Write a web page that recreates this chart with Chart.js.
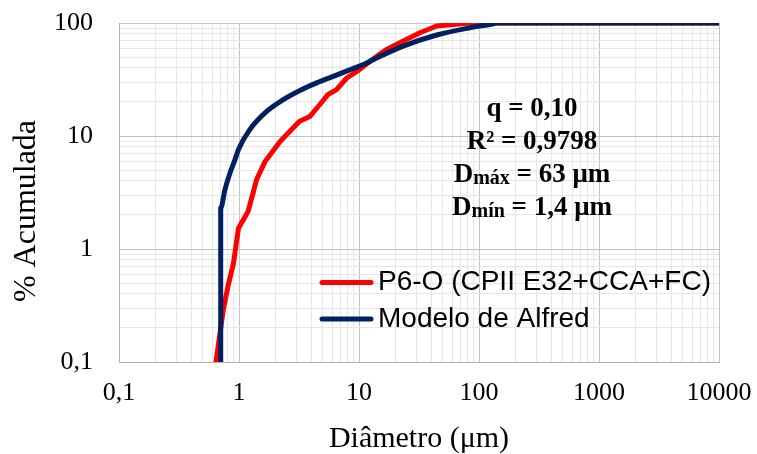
<!DOCTYPE html>
<html><head><meta charset="utf-8">
<script src="https://cdn.jsdelivr.net/npm/chart.js@4.4.1/dist/chart.umd.min.js"></script>
<style>html,body{margin:0;padding:0;background:#fff;}#wrap{width:757px;height:454px;position:relative;}</style>
</head><body><div id="wrap"><canvas id="c" width="757" height="454"></canvas></div>
<script>
// ---- data ----
const xMajorTicks = [0.1, 1, 10, 100, 1000, 10000];
const xTickLabels = ['0,1', '1', '10', '100', '1000', '10000'];
const yMajorTicks = [0.1, 1, 10, 100];
const yTickLabels = ['0,1', '1', '10', '100'];
const seriesNames = ['P6-O (CPII E32+CCA+FC)', 'Modelo de Alfred'];
const xTitle = 'Diâmetro (μm)';
const yTitle = '% Acumulada';

// experimental curve P6-O: diameter (μm) and cumulative %
const expDiam = [0.60, 0.74, 0.81, 0.90, 0.99, 1.19, 1.31, 1.40, 1.65, 1.87, 2.2, 2.5, 3.2, 3.9, 4.7, 5.5, 6.5, 7.9, 9.6, 10.9, 12.4, 17, 23.4, 32.2, 44.4, 61, 84, 10000];
const expCum  = [0.06, 0.29, 0.47, 0.75, 1.53, 2.15, 3.13, 4.1, 5.96, 7.1, 8.96, 10.3, 13.5, 14.9, 18.9, 23.2, 25.7, 32.6, 37.3, 41.3, 46, 58.4, 69.3, 82, 94, 97, 100, 100];

// Alfred model curve
const modelDiam = [0.704, 0.704, 0.764, 0.841, 0.926, 0.99, 1.23, 1.70, 2.34, 3.22, 4.44, 6.1, 8.4, 11.6, 14, 23.4, 44.4, 84, 132, 140, 10000];
const modelCum  = [0.01, 2.31, 3.35, 4.7, 6.17, 7.6, 11.4, 16.5, 21, 25.3, 29.5, 33.7, 38.6, 44.3, 49, 62.5, 78.3, 90.8, 98.6, 100, 100];

// annotation text
const annotationLines = [
  {main: 'q = 0,10', sub: '', rest: ''},
  {main: 'R² = 0,9798', sub: '', rest: ''},
  {main: 'D', sub: 'máx', rest: ' = 63 μm'},
  {main: 'D', sub: 'mín', rest: ' = 1,4 μm'}
];

// ---- helpers ----
function buildLogTicks(majors) {
  const out = [];
  for (let i = 0; i < majors.length - 1; i++) {
    for (let m = 1; m <= 9; m++) out.push(parseFloat((majors[i] * m).toPrecision(6)));
  }
  out.push(majors[majors.length - 1]);
  return out;
}
function majorIndex(majors, v) {
  return majors.findIndex(m => Math.abs(m - v) / m < 1e-9);
}
const MAJOR = '#c2c2c2', MINOR = '#e6e6e6', BORDER = '#b0b0b0';
const xTicksAll = buildLogTicks(xMajorTicks);
const yTicksAll = buildLogTicks(yMajorTicks);

const overlay = {
  id: 'overlay',
  afterDraw(chart) {
    const ctx = chart.ctx;
    const a = chart.chartArea;
    ctx.save();
    // y-axis title
    ctx.fillStyle = '#000';
    ctx.font = '32px "Liberation Serif"';
    ctx.textAlign = 'center';
    ctx.textBaseline = 'middle';
    ctx.translate(27, 211);
    ctx.rotate(-Math.PI / 2);
    ctx.fillText(yTitle, 0, 0);
    ctx.setTransform(1, 0, 0, 1, 0, 0);

    // annotation block
    const cx = a.left + 413;
    const baselines = [a.top + 93, a.top + 125.5, a.top + 158.5, a.top + 191.5];
    ctx.textAlign = 'left';
    ctx.textBaseline = 'alphabetic';
    annotationLines.forEach((ln, i) => {
      const bigF = 'bold 27px "Liberation Serif"';
      const smallF = 'bold 20px "Liberation Serif"';
      ctx.font = bigF; const w1 = ctx.measureText(ln.main).width;
      ctx.font = smallF; const w2 = ln.sub ? ctx.measureText(ln.sub).width : 0;
      ctx.font = bigF; const w3 = ln.rest ? ctx.measureText(ln.rest).width : 0;
      let x = cx - (w1 + w2 + w3) / 2;
      const y = baselines[i];
      ctx.font = bigF; ctx.fillText(ln.main, x, y); x += w1;
      if (ln.sub) { ctx.font = smallF; ctx.fillText(ln.sub, x, y + 2); x += w2; }
      if (ln.rest) { ctx.font = bigF; ctx.fillText(ln.rest, x, y); }
    });

    // legend
    const ds = chart.data.datasets;
    const legY = [a.top + 259.5, a.top + 296];
    ds.forEach((d, i) => {
      ctx.strokeStyle = d.borderColor;
      ctx.lineWidth = 5;
      ctx.lineCap = 'round';
      ctx.beginPath();
      ctx.moveTo(a.left + 203, legY[i]);
      ctx.lineTo(a.left + 252, legY[i]);
      ctx.stroke();
      ctx.fillStyle = '#000';
      ctx.font = '28px "Liberation Sans"';
      ctx.textAlign = 'left';
      ctx.textBaseline = 'middle';
      ctx.fillText(d.label, a.left + 259, legY[i]);
    });
    ctx.restore();
  }
};

const gridColor = (ctx) => (ctx.tick && majorIndex(xMajorTicks.concat(yMajorTicks), ctx.tick.value) >= 0) ? MAJOR : MINOR;

new Chart(document.getElementById('c'), {
  type: 'line',
  data: {
    datasets: [
      {
        label: seriesNames[0],
        data: expDiam.map((d, i) => ({x: d, y: expCum[i]})),
        borderColor: '#ff0000',
        borderWidth: 5,
        borderJoinStyle: 'round',
        pointRadius: 0,
        fill: false,
        order: 2
      },
      {
        label: seriesNames[1],
        data: modelDiam.map((d, i) => ({x: d, y: modelCum[i]})),
        borderColor: '#002060',
        borderWidth: 5,
        borderJoinStyle: 'round',
        cubicInterpolationMode: 'monotone',
        pointRadius: 0,
        fill: false,
        order: 1
      }
    ]
  },
  options: {
    responsive: false,
    animation: false,
    devicePixelRatio: 1,
    layout: {padding: {top: 23, right: 38, bottom: 0, left: 0}},
    plugins: {legend: {display: false}, tooltip: {enabled: false}},
    elements: {line: {tension: 0}, point: {radius: 0}},
    scales: {
      x: {
        type: 'logarithmic',
        min: 0.1, max: 10000,
        afterBuildTicks: (s) => { s.ticks = xTicksAll.map(v => ({value: v})); },
        afterFit: (s) => { s.height = 92; s.paddingLeft = 0; s.paddingRight = 0; },
        grid: {color: gridColor, drawTicks: false, lineWidth: 1},
        border: {color: BORDER, width: 1},
        ticks: {
          autoSkip: false, maxRotation: 0, minRotation: 0, padding: 16, color: '#000',
          font: {family: 'Liberation Serif', size: 26},
          callback: (v) => { const i = majorIndex(xMajorTicks, v); return i >= 0 ? xTickLabels[i] : ''; }
        },
        title: {display: true, text: xTitle, color: '#000', font: {family: 'Liberation Serif', size: 30}, padding: {top: 0, bottom: -3}}
      },
      y: {
        type: 'logarithmic',
        min: 0.1, max: 100,
        afterBuildTicks: (s) => { s.ticks = yTicksAll.map(v => ({value: v})); },
        afterFit: (s) => { s.width = 119; s.paddingTop = 0; s.paddingBottom = 0; },
        grid: {color: gridColor, drawTicks: false, lineWidth: 1},
        border: {color: BORDER, width: 1},
        ticks: {
          autoSkip: false, padding: 26, color: '#000',
          font: {family: 'Liberation Serif', size: 26},
          callback: (v) => { const i = majorIndex(yMajorTicks, v); return i >= 0 ? yTickLabels[i] : ''; }
        },
        title: {display: false}
      }
    }
  },
  plugins: [overlay]
});
</script></body></html>
